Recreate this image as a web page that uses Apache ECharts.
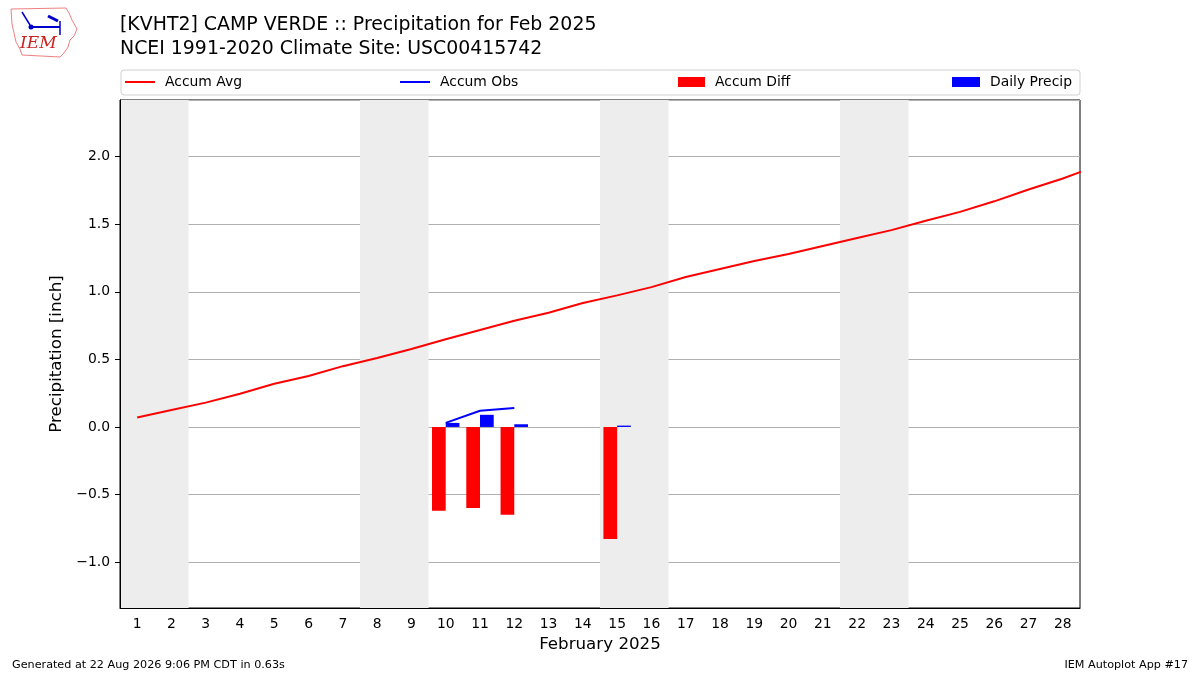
<!DOCTYPE html>
<html lang="en">
<head>
    <meta charset="UTF-8">
    <title>KVHT2 Precipitation Feb 2025</title>
    <script src="https://cdn.jsdelivr.net/npm/echarts@6/dist/echarts.min.js"></script>
    <style>
        html, body {margin: 0; padding: 0; background: #fff;}
        #main {width: 1200px; height: 675px;}
    </style>
</head>
<body>
<div id="main"></div>
<script>
    // 日期 (February 2025)
    let days = ['1', '2', '3', '4', '5', '6', '7', '8', '9', '10', '11', '12', '13', '14',
        '15', '16', '17', '18', '19', '20', '21', '22', '23', '24', '25', '26', '27', '28'];
    // climatology accumulated precip, runs one day past the axis (clipped)
    let avgAccum = [0.07, 0.126, 0.18, 0.246, 0.32, 0.377, 0.45, 0.51, 0.577, 0.649, 0.717, 0.786,
        0.845, 0.917, 0.974, 1.035, 1.11, 1.169, 1.228, 1.28, 1.339, 1.398, 1.457, 1.526,
        1.592, 1.67, 1.758, 1.839, 1.933];
    let obsAccum = [null, null, null, null, null, null, null, null, null, 0.03, 0.12, 0.14,
        null, null, null, null, null, null, null, null, null, null, null, null, null, null, null, null];
    let accumDiff = [null, null, null, null, null, null, null, null, null, -0.62, -0.60, -0.65,
        null, null, -0.83, null, null, null, null, null, null, null, null, null, null, null, null, null];
    let dailyPrecip = [null, null, null, null, null, null, null, null, null, 0.03, 0.09, 0.02,
        null, null, 0.01, null, null, null, null, null, null, null, null, null, null, null, null, null];
    // weekends
    let weekends = [[1, 2], [8, 9], [15, 16], [22, 23]];

    let font = 'DejaVu Sans';
    let fmt = v => v.toFixed(1).replace('-', '\u2212');
    let lineIcon = 'path://M0,0 L30,0 L30,2 L0,2 Z';

    let myChart = echarts.init(document.getElementById('main'));
    let option = {
        animation: false,
        backgroundColor: '#fff',
        textStyle: {fontFamily: font, color: '#000'},
        title: {
            left: 115,
            top: 8,
            text: '[KVHT2] CAMP VERDE :: Precipitation for Feb 2025\nNCEI 1991-2020 Climate Site: USC00415742',
            textStyle: {fontFamily: font, fontSize: 18.9, fontWeight: 'normal', color: '#000', lineHeight: 24}
        },
        legend: [
            {left: 125, data: [{name: 'Accum Avg', icon: lineIcon}], itemWidth: 30, itemHeight: 2},
            {left: 400, data: [{name: 'Accum Obs', icon: lineIcon}], itemWidth: 30, itemHeight: 2},
            {left: 678, data: [{name: 'Accum Diff', icon: 'rect'}], itemWidth: 27, itemHeight: 10},
            {left: 952, data: [{name: 'Daily Precip', icon: 'rect'}], itemWidth: 28, itemHeight: 10}
        ].map(l => Object.assign(l, {
            top: 75,
            padding: 0,
            orient: 'horizontal',
            textStyle: {fontFamily: font, fontSize: 13.9, color: '#000', padding: [0, 0, 0, 5]}
        })),
        grid: {
            left: 120, right: 120, top: 100, bottom: 67,
            show: true, borderColor: '#000', borderWidth: 1, backgroundColor: 'transparent'
        },
        xAxis: [
            {
                type: 'category',
                data: days,
                boundaryGap: true,
                name: 'February 2025',
                nameLocation: 'middle',
                nameGap: 28,
                nameTextStyle: {fontFamily: font, fontSize: 16.7, color: '#000'},
                axisLine: {onZero: false, lineStyle: {color: '#000'}},
                axisTick: {alignWithLabel: true, length: 5, lineStyle: {color: '#000'}},
                axisLabel: {fontFamily: font, fontSize: 13.9, color: '#000', margin: 9, interval: 0},
                splitLine: {show: false},
                z: 3
            },
            {type: 'value', min: 0.5, max: 28.5, show: false}
        ],
        yAxis: {
            type: 'value',
            min: -1.34,
            max: 2.42,
            splitNumber: 7,
            name: 'Precipitation [inch]',
            nameLocation: 'middle',
            nameGap: 48,
            nameTextStyle: {fontFamily: font, fontSize: 16.7, color: '#000'},
            axisLine: {show: true, lineStyle: {color: '#000'}},
            axisTick: {show: true, length: 5, lineStyle: {color: '#000'}},
            axisLabel: {
                fontFamily: font, fontSize: 13.9, color: '#000', margin: 10,
                showMinLabel: false, showMaxLabel: false, formatter: fmt
            },
            splitLine: {show: true, lineStyle: {color: '#b0b0b0', width: 1}},
            z: 1
        },
        series: [
            {
                // 周末阴影
                name: 'weekend',
                type: 'line',
                xAxisIndex: 1,
                data: [],
                z: 0,
                silent: true,
                markArea: {
                    silent: true,
                    itemStyle: {color: '#ededed'},
                    data: weekends.map(w => [{xAxis: w[0] - 0.5}, {xAxis: w[1] + 0.5}])
                }
            },
            {
                name: 'Accum Avg',
                type: 'line',
                xAxisIndex: 1,
                symbol: 'none',
                clip: true,
                color: '#ff0000',
                lineStyle: {color: '#ff0000', width: 2},
                data: avgAccum.map((v, i) => [i + 1, v]),
                z: 4
            },
            {
                name: 'Accum Obs',
                type: 'line',
                xAxisIndex: 1,
                symbol: 'none',
                color: '#0000ff',
                lineStyle: {color: '#0000ff', width: 2},
                data: obsAccum.map((v, i) => [i + 1, v]),
                z: 4
            },
            {
                name: 'Accum Diff',
                type: 'bar',
                xAxisIndex: 0,
                barWidth: '40%',
                barGap: '0%',
                color: '#ff0000',
                itemStyle: {color: '#ff0000'},
                data: accumDiff,
                z: 3
            },
            {
                name: 'Daily Precip',
                type: 'bar',
                xAxisIndex: 0,
                barWidth: '40%',
                barGap: '0%',
                color: '#0000ff',
                itemStyle: {color: '#0000ff'},
                data: dailyPrecip,
                z: 3
            }
        ],
        graphic: [
            {
                // legend frame
                type: 'rect',
                shape: {x: 121, y: 70, width: 959, height: 25, r: 3},
                style: {fill: 'none', stroke: '#d0d0d0', lineWidth: 1},
                z: -1
            },
            // IEM logo
            {
                type: 'polyline',
                shape: {points: [[11, 9], [66, 8], [69, 13], [72, 20], [77, 29], [74, 36], [70, 40], [68, 47], [64, 53], [60, 57], [22, 55], [20, 49], [16, 42], [14, 33], [12, 24], [11, 9]]},
                style: {stroke: '#f08080', lineWidth: 1, fill: 'none'}
            },
            {type: 'line', shape: {x1: 31, y1: 27, x2: 60, y2: 27}, style: {stroke: '#0000cc', lineWidth: 2}},
            {type: 'circle', shape: {cx: 31, cy: 27, r: 2.5}, style: {fill: '#0000cc'}},
            {type: 'line', shape: {x1: 22, y1: 12, x2: 30, y2: 25}, style: {stroke: '#0000cc', lineWidth: 1.5}},
            {type: 'line', shape: {x1: 48, y1: 16, x2: 58, y2: 21}, style: {stroke: '#0000cc', lineWidth: 3}},
            {type: 'line', shape: {x1: 60, y1: 21, x2: 60, y2: 35}, style: {stroke: '#0000cc', lineWidth: 1.5}},
            {
                type: 'text', left: 20, top: 35,
                style: {text: 'IEM', fill: '#cc2222', font: 'italic 17px "DejaVu Serif", serif'}
            },
            // 底部文字
            {
                type: 'text', left: 12, top: 660,
                style: {text: 'Generated at 22 Aug 2026 9:06 PM CDT in 0.63s', fill: '#000', font: '11.2px "DejaVu Sans"'}
            },
            {
                type: 'text', right: 12, top: 660,
                style: {text: 'IEM Autoplot App #17', fill: '#000', font: '11.2px "DejaVu Sans"'}
            }
        ]
    };
    myChart.setOption(option);
</script>
</body>
</html>
